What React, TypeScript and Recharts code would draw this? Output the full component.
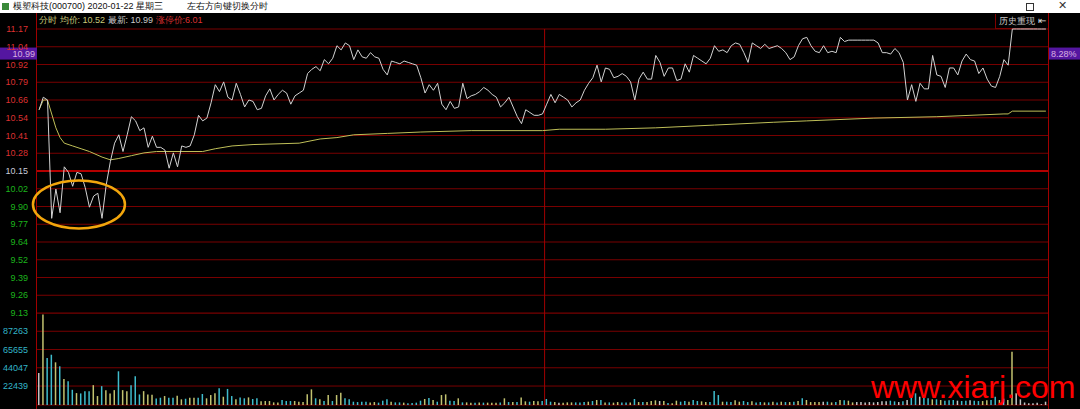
import { LineChart, Line, BarChart, Bar, Cell, XAxis, YAxis, CartesianGrid, ReferenceLine, ReferenceDot } from 'recharts'

const PRICE_LABELS = ['11.17', '11.04', '10.92', '10.79', '10.66', '10.54', '10.41', '10.28', '10.15', '10.02', '9.90', '9.77', '9.64', '9.52', '9.39', '9.26', '9.13']
const PCT_LABELS = ['10.05%', '8.80%', '7.55%', '6.30%', '5.05%', '3.80%', '2.55%', '1.30%', '0.00%', '1.25%', '2.50%', '3.75%', '5.00%', '6.25%', '7.50%', '8.75%', '10.05%']
const VOL_LABELS = ['22439', '44047', '65655', '87263']
const VOL_TOP = 108871

// 9:30 - 11:30
const PRICE_AM = [
  10.59, 10.68, 10.66, 9.81, 10.02, 9.85, 10.18, 10.14, 10.04, 10.14,
  10.13, 10.03, 9.89, 9.97, 9.99, 9.81, 10.05, 10.22, 10.35, 10.41,
  10.29, 10.41, 10.54, 10.51, 10.44, 10.46, 10.32, 10.40, 10.32, 10.32,
  10.30, 10.17, 10.28, 10.18, 10.33, 10.32, 10.33, 10.41, 10.55, 10.51,
  10.53, 10.64, 10.77, 10.72, 10.79, 10.68, 10.66, 10.78, 10.70, 10.61,
  10.66, 10.65, 10.59, 10.60, 10.69, 10.74, 10.66, 10.70, 10.73, 10.71,
  10.63, 10.69, 10.71, 10.73, 10.85, 10.88, 10.90, 10.87, 10.95, 10.92,
  10.96, 11.05, 11.02, 11.07, 11.05, 10.95, 11.02, 10.97, 10.96, 11.00,
  10.97, 10.96, 10.88, 10.84, 10.94, 10.93, 10.92, 10.94, 10.93, 10.92,
  10.91, 10.82, 10.71, 10.77, 10.73, 10.78, 10.63, 10.59, 10.65, 10.60,
  10.61, 10.78, 10.67, 10.69, 10.70, 10.72, 10.75, 10.73, 10.70, 10.68,
  10.61, 10.64, 10.68, 10.61, 10.54, 10.49, 10.59, 10.57, 10.55, 10.55,
  10.56,
]

// 13:01 - 15:00
const PRICE_PM = [
  10.63, 10.70, 10.64, 10.70, 10.68, 10.66, 10.61, 10.64, 10.66, 10.73,
  10.78, 10.82, 10.91, 10.79, 10.89, 10.88, 10.82, 10.83, 10.85, 10.83,
  10.79, 10.66, 10.81, 10.86, 10.81, 10.81, 10.98, 10.93, 10.83, 10.89,
  10.89, 10.80, 10.81, 10.92, 10.86, 10.98, 10.96, 10.94, 10.92, 10.96,
  11.05, 11.01, 11.02, 11.00, 11.05, 11.07, 11.06, 11.00, 10.93, 11.07,
  11.05, 11.03, 11.06, 11.03, 11.04, 11.05, 11.03, 11.00, 10.95, 10.97,
  11.05, 11.10, 11.11, 11.05, 11.01, 11.00, 11.05, 11.00, 11.01, 11.00,
  11.11, 11.08, 11.09, 11.09, 11.09, 11.09, 11.09, 11.09, 11.09, 11.07,
  11.00, 11.00, 10.99, 11.03, 11.00, 10.93, 10.66, 10.77, 10.65, 10.78,
  10.74, 10.74, 10.98, 10.84, 10.83, 10.75, 10.89, 10.89, 10.84, 10.94,
  10.99, 10.95, 10.94, 10.85, 10.89, 10.81, 10.76, 10.75, 10.83, 10.95,
  10.91, 11.17, 11.17, 11.17, 11.17, 11.17, 11.17, 11.17, 11.17, 11.17,
]

// average price, read at the minutes where it could be read
const AVG_POINTS: [number, number][] = [
  [0, 10.59], [1, 10.66], [2, 10.66], [4, 10.46], [5, 10.39], [6, 10.35], [8, 10.33],
  [10, 10.31], [12, 10.29], [15, 10.25], [17, 10.23], [19, 10.24], [22, 10.26], [25, 10.28],
  [28, 10.29], [39, 10.29], [42, 10.31], [46, 10.33], [51, 10.34], [62, 10.35], [67, 10.38],
  [71, 10.39], [75, 10.41], [83, 10.42], [91, 10.43], [103, 10.44], [120, 10.44],
  [124, 10.45], [135, 10.45], [147, 10.46], [161, 10.48], [175, 10.50], [183, 10.51],
  [199, 10.53], [214, 10.54], [230, 10.56], [231, 10.56], [232, 10.58], [240, 10.58],
]

const VOLUME = [
  37900, 107200, 55500, 59500, 50500, 45800, 30900, 28200, 18000, 14100,
  13700, 16400, 16400, 23500, 10600, 22300, 17600, 13700, 17600, 39900,
  17600, 16400, 23500, 34000, 12500, 16400, 12500, 12000, 7800, 8600,
  10600, 8600, 8600, 11000, 6700, 7400, 8600, 8600, 8600, 13000,
  7900, 11800, 13800, 19700, 9800, 19000, 10600, 6700, 9000, 7900,
  9000, 7100, 7900, 4300, 4700, 4700, 3100, 3100, 5900, 4700,
  4700, 4700, 3900, 3500, 12600, 18500, 7900, 6700, 4700, 11800,
  4700, 11800, 14600, 7900, 6700, 3900, 3500, 3900, 3900, 3100,
  3500, 2800, 5100, 6700, 3900, 3100, 3100, 2800, 2000, 2400,
  2800, 5100, 7100, 8300, 5900, 3900, 11800, 12600, 5100, 4700,
  7900, 3100, 3100, 2800, 2800, 3100, 2800, 2800, 2800, 2800,
  3100, 7900, 3500, 3500, 3500, 9000, 4300, 3900, 4700, 4300,
  4700, 7100, 3900, 3500, 2800, 2800, 3100, 3100, 3100, 3100,
  3500, 3900, 4700, 5900, 5900, 3100, 3100, 2800, 3500, 3100,
  3100, 3100, 7100, 3500, 3500, 3500, 4700, 5500, 4700, 4700,
  2400, 2000, 5100, 3900, 4700, 3900, 5900, 4700, 4300, 3500,
  3500, 16500, 11800, 3900, 3900, 3500, 5500, 3900, 4700, 3500,
  4300, 3100, 3500, 3100, 3100, 3900, 3100, 3900, 3500, 3500,
  3900, 4700, 7900, 5900, 3500, 3500, 3500, 3900, 3900, 3100,
  3500, 5900, 5500, 5100, 3100, 3500, 3500, 3100, 3500, 3100,
  3500, 4300, 4300, 5100, 4300, 3500, 4300, 5900, 9800, 13800,
  9800, 11800, 7900, 6700, 6700, 5900, 5100, 5500, 5900, 5100,
  4700, 5100, 5500, 5100, 4700, 4700, 5500, 5900, 9800, 5900,
  7500, 5900, 62900, 13800, 6700, 3100, 2000, 2000, 2800, 1000,
  3900,
]

// u = up (yellow), d = down (cyan), f = flat (grey)
const VOL_DIR =
  'fuddudud' + 'duddduuduuuduuddduuuddudduuduud' +
  'duuududduddudduuuuuddduuuuudududuud' +
  'ddddduudddudduddddududuuddud' +
  'uududuuudududuuduudddufuuudddudududuuddudud' +
  'uuufudu' + 'uddudduudddudd' + 'uudduddudududududuuuufdudud' +
  'uuffffffffddfdfddfddudud' + 'ddfddfdduudduduuf' + 'fffffff'

const COLORS: Record<string, string> = { u: '#c2c270', d: '#3fbccc', f: '#c4c4c4' }

const PRICE = [...PRICE_AM, ...PRICE_PM]
const avgByMinute = new Map(AVG_POINTS)
const rows = PRICE.map((p, i) => ({
  i,
  p,
  a: avgByMinute.has(i) ? avgByMinute.get(i) : null,
  v: VOLUME[i],
  d: VOL_DIR[i] || 'f',
}))

const P_TOP = Number(PRICE_LABELS[0])
const P_BOT = Number(PRICE_LABELS[PRICE_LABELS.length - 1])
const P_STEP = (P_TOP - P_BOT) / (PRICE_LABELS.length - 1)
const priceTicks = PRICE_LABELS.map((_, k) => P_TOP - k * P_STEP)
const volTicks = VOL_LABELS.map(Number)

const FONT = '"Liberation Sans", Arial, sans-serif'
const RED = '#dc3030'
const GREEN = '#1cb41c'
const NEUTRAL = '#c8ccd8'
const GRID = '#780000'

function tickColor(k: number) {
  if (k < 8) return RED
  if (k === 8) return NEUTRAL
  return GREEN
}

function LeftTick(props: any) {
  const { x, y, index } = props
  return (
    <text x={x - 1} y={y} dy={3.2} textAnchor="end" fontSize={9} fontFamily={FONT} fill={tickColor(index)}>
      {PRICE_LABELS[index]}
    </text>
  )
}

function RightTick(props: any) {
  const { x, y, index } = props
  return (
    <text x={x + 2} y={y} dy={3.2} textAnchor="start" fontSize={9} fontFamily={FONT} fill={tickColor(index)}>
      {PCT_LABELS[index]}
    </text>
  )
}

function VolTick(props: any) {
  const { x, y, index } = props
  return (
    <text x={x - 1} y={y} dy={3.2} textAnchor="end" fontSize={9} fontFamily={FONT} fill="#33b4c8">
      {VOL_LABELS[index]}
    </text>
  )
}

function CursorTag(props: any) {
  const { x, y, width } = props.viewBox
  return (
    <g>
      <rect x={x - 37} y={y - 6.5} width={37} height={12} fill="#5416a0" />
      <text x={x - 2} y={y} dy={3.2} textAnchor="end" fontSize={9} fontFamily={FONT} fill="#d8b0e0">10.99</text>
      <rect x={x + width + 1} y={y - 6.5} width={32} height={12} fill="#5416a0" />
      <text x={x + width + 3} y={y} dy={3.2} fontSize={9} fontFamily={FONT} fill="#d8b0e0">8.28%</text>
    </g>
  )
}

function Ring(props: any) {
  return <ellipse cx={props.cx} cy={props.cy} rx={46} ry={24} fill="none" stroke="#f2a60c" strokeWidth={2.5} />
}

export default function App() {
  return (
    <div style={{ position: 'absolute', left: 0, top: 0, width: 1080, height: 409, background: '#000', overflow: 'hidden', fontFamily: FONT }}>
      {/* window title bar */}
      <div style={{ position: 'absolute', left: 0, top: 0, width: 1080, height: 13, background: '#fff' }}>
        <div style={{ position: 'absolute', left: 2, top: 3, width: 7, height: 7, background: '#3a8a3a' }} />
        <div style={{ position: 'absolute', left: 13, top: 0, fontSize: 9, lineHeight: '13px', color: '#111', whiteSpace: 'nowrap' }}>
          模塑科技(000700) 2020-01-22 星期三
        </div>
        <div style={{ position: 'absolute', left: 187, top: 0, fontSize: 9, lineHeight: '13px', color: '#111', whiteSpace: 'nowrap' }}>
          左右方向键切换分时
        </div>
        <div style={{ position: 'absolute', left: 1026, top: 3, width: 6, height: 6, border: '1px solid #333' }} />
        <div style={{ position: 'absolute', left: 1058, top: -1, fontSize: 11, lineHeight: '13px', color: '#333' }}>✕</div>
      </div>

      {/* frame */}
      <div style={{ position: 'absolute', left: 36, top: 13, width: 1011, height: 396, borderLeft: '1px solid #a00000', borderRight: '1px solid #a00000' }} />

      {/* header */}
      <div style={{ position: 'absolute', left: 39, top: 14, fontSize: 9, lineHeight: '12px', whiteSpace: 'nowrap' }}>
        <span style={{ color: '#c8c878' }}>分时 均价: 10.52 </span>
        <span style={{ color: '#c8c8c8' }}>最新: 10.99 </span>
        <span style={{ color: RED }}>涨停价:6.01</span>
      </div>

      <div style={{ position: 'absolute', left: 995, top: 14, width: 41, height: 14, borderLeft: '1px solid #800000', borderBottom: '1px solid #800000', color: '#c8c8c8', fontSize: 9, lineHeight: '14px', textAlign: 'center' }}>
        历史重现
      </div>
      <div style={{ position: 'absolute', left: 1038, top: 14, fontSize: 10, lineHeight: '14px', color: '#ddd' }}>⇤</div>

      <LineChart width={1080} height={324} data={rows} margin={{ top: 29, right: 0, bottom: 11, left: 0 }} style={{ position: 'absolute', left: 0, top: 0 }}>
        <CartesianGrid stroke={GRID} vertical={false} />
        <XAxis dataKey="i" type="number" domain={[-0.5, 240.5]} hide />
        <YAxis domain={[P_BOT, P_TOP]} ticks={priceTicks} interval={0} width={37} axisLine={false} tickLine={false} tick={<LeftTick />} />
        <YAxis yAxisId="r" orientation="right" domain={[P_BOT, P_TOP]} ticks={priceTicks} interval={0} width={32} axisLine={false} tickLine={false} tick={<RightTick />} />
        <ReferenceLine y={priceTicks[8]} stroke="#b40000" strokeWidth={2} />
        <ReferenceLine x={120.5} stroke="#a00000" />
        <Line dataKey="a" stroke="#bfbf58" strokeWidth={1} dot={false} connectNulls isAnimationActive={false} />
        <Line dataKey="p" stroke="#d2d2d2" strokeWidth={1} dot={false} isAnimationActive={false} />
        <ReferenceLine y={10.99} stroke="none" label={<CursorTag />} />
        <ReferenceDot x={9.5} y={9.91} shape={<Ring />} />
      </LineChart>

      <BarChart width={1080} height={96} data={rows} margin={{ top: 0, right: 32, bottom: 4, left: 0 }} style={{ position: 'absolute', left: 0, top: 313 }}>
        <CartesianGrid stroke={GRID} vertical={false} />
        <XAxis dataKey="i" type="number" domain={[-0.5, 240.5]} hide />
        <YAxis domain={[0, VOL_TOP]} ticks={volTicks} interval={0} width={37} axisLine={false} tickLine={false} tick={<VolTick />} />
        <ReferenceLine x={120.5} stroke="#a00000" />
        <Bar dataKey="v" barSize={1.5} isAnimationActive={false}>
          {rows.map((r) => (
            <Cell key={r.i} fill={COLORS[r.d]} />
          ))}
        </Bar>
      </BarChart>

      <div style={{ position: 'absolute', left: 871, top: 371, fontSize: 32, lineHeight: '32px', color: '#ff0000', whiteSpace: 'nowrap' }}>
        www.xiarj.com
      </div>
    </div>
  )
}
